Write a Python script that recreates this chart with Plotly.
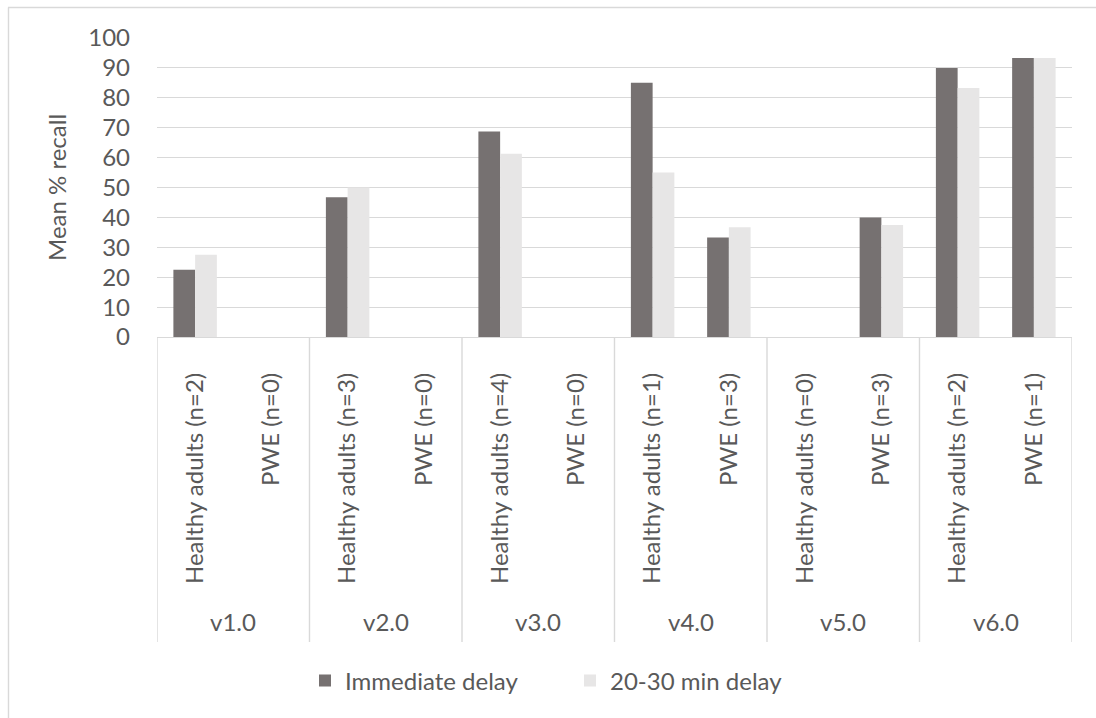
import plotly.graph_objects as go

versions = ["v1.0", "v2.0", "v3.0", "v4.0", "v5.0", "v6.0"]
groups = ["Healthy adults (n=2)", "PWE (n=0)",
          "Healthy adults (n=3)", "PWE (n=0)",
          "Healthy adults (n=4)", "PWE (n=0)",
          "Healthy adults (n=1)", "PWE (n=3)",
          "Healthy adults (n=0)", "PWE (n=3)",
          "Healthy adults (n=2)", "PWE (n=1)"]
immediate = [22.5, 0, 46.7, 0, 68.75, 0, 85, 33.3, 0, 40, 90, 93.3]
delayed = [27.5, 0, 50, 0, 61.25, 0, 55, 36.7, 0, 37.5, 83.3, 93.3]
series_names = ["Immediate delay", "20-30 min delay"]
y_ticks = [0, 10, 20, 30, 40, 50, 60, 70, 80, 90, 100]

FONT = "Lato"
TXT = "#595959"
GRID = "#D9D9D9"
FS = 24

pos = list(range(len(groups)))

fig = go.Figure()
fig.add_trace(go.Bar(x=pos, y=immediate, name=series_names[0],
                     marker=dict(color="#767171", line=dict(width=0))))
fig.add_trace(go.Bar(x=pos, y=delayed, name=series_names[1],
                     marker=dict(color="#E7E6E6", line=dict(width=0))))

L, R, T, B = 157, 24, 38, 381
plot_w = 1096 - L - R
plot_h = 718 - T - B
axis_y = T + plot_h

def py(page_y):
    return (axis_y - page_y) / plot_h

def px(page_x):
    return (page_x - L) / plot_w

shapes = []
for k in range(len(versions) + 1):
    xv = -0.5 + 2 * k
    shapes.append(dict(type="line", xref="x", yref="paper", x0=xv, x1=xv,
                       y0=0, y1=py(642),
                       line=dict(color=GRID, width=1.4)))
# chart border (top & left)
shapes.append(dict(type="line", xref="paper", yref="paper",
                   x0=px(8), x1=px(1200), y0=py(7.5), y1=py(7.5),
                   line=dict(color=GRID, width=1.4)))
shapes.append(dict(type="line", xref="paper", yref="paper",
                   x0=px(8.5), x1=px(8.5), y0=py(7.5), y1=py(800),
                   line=dict(color=GRID, width=1.4)))

annotations = []
for i, v in enumerate(versions):
    annotations.append(dict(x=2 * i + 0.5, xref="x", y=py(621), yref="paper",
                            text=v, showarrow=False, yanchor="middle",
                            font=dict(family=FONT, size=FS, color=TXT)))

fig.update_layout(
    width=1096, height=718,
    paper_bgcolor="white", plot_bgcolor="white",
    margin=dict(l=L, r=R, t=T, b=B),
    barmode="group", bargap=0.43, bargroupgap=0,
    font=dict(family=FONT, size=FS, color=TXT),
    showlegend=True,
    legend=dict(orientation="h", xref="paper", yref="paper",
                x=px(305), xanchor="left",
                y=py(681), yanchor="middle",
                font=dict(family=FONT, size=FS, color=TXT),
                entrywidth=220, entrywidthmode="pixels",
                bgcolor="rgba(0,0,0,0)"),
    shapes=shapes,
    annotations=annotations,
    xaxis=dict(range=[-0.5, 11.5], tickmode="array", tickvals=pos, ticktext=groups,
               tickangle=-90, ticks="", showgrid=False, zeroline=False,
               showline=True, linecolor=GRID, linewidth=1.4,
               ticklabelstandoff=25,
               tickfont=dict(family=FONT, size=FS, color=TXT)),
    yaxis=dict(range=[0, 100], tickmode="array", tickvals=y_ticks,
               showgrid=True, gridcolor=GRID, gridwidth=1.4, zeroline=False,
               showline=False, ticks="",
               ticklabelstandoff=26,
               title=dict(text="Mean % recall", standoff=14,
                          font=dict(family=FONT, size=FS, color=TXT)),
               tickfont=dict(family=FONT, size=FS, color=TXT)),
)

fig.write_html("out.html", config={"displayModeBar": False},
               post_script="document.body.style.margin='0px';")
